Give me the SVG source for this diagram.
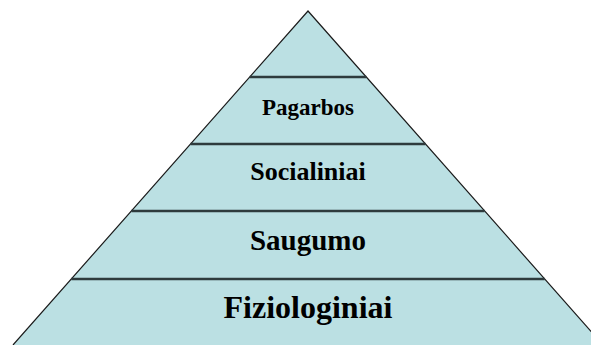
<svg xmlns="http://www.w3.org/2000/svg" width="591" height="345" viewBox="0 0 591 345">
  <style>
    .tier { fill: #bbe0e3; stroke: none; }
    .edge { fill: none; stroke: #1a1a1a; stroke-width: 1.2; }
    .sep { stroke: #2e3b3d; stroke-width: 2.5; }
    .lbl { font-family: "Liberation Serif", "Times New Roman", serif; font-weight: bold; fill: #000; text-anchor: middle; }
  </style>
  <rect width="591" height="345" fill="#ffffff"/>
  <g id="tier-top">
    <polygon class="tier" points="308,11 366.3,77 249.7,77"/>
  </g>
  <g id="tier-pagarbos">
    <polygon class="tier" points="249.7,77 366.3,77 425.5,144 190.5,144"/>
    <text class="lbl" x="308" y="115" font-size="23">Pagarbos</text>
  </g>
  <g id="tier-socialiniai">
    <polygon class="tier" points="190.5,144 425.5,144 484.6,211 131.4,211"/>
    <text class="lbl" x="308" y="180" font-size="26">Socialiniai</text>
  </g>
  <g id="tier-saugumo">
    <polygon class="tier" points="131.4,211 484.6,211 544.7,279 71.3,279"/>
    <text class="lbl" x="308" y="250" font-size="29">Saugumo</text>
  </g>
  <g id="tier-fiziologiniai">
    <polygon class="tier" points="71.3,279 544.7,279 603,345 13,345"/>
    <text class="lbl" x="308" y="318" font-size="32">Fiziologiniai</text>
  </g>
  <g id="lines">
    <polyline class="edge" points="13,345 308,11 603,345"/>
    <line class="sep" x1="249.7" y1="77" x2="366.3" y2="77"/>
    <line class="sep" x1="190.5" y1="144" x2="425.5" y2="144"/>
    <line class="sep" x1="131.4" y1="211" x2="484.6" y2="211"/>
    <line class="sep" x1="71.3" y1="279" x2="544.7" y2="279"/>
  </g>
</svg>
